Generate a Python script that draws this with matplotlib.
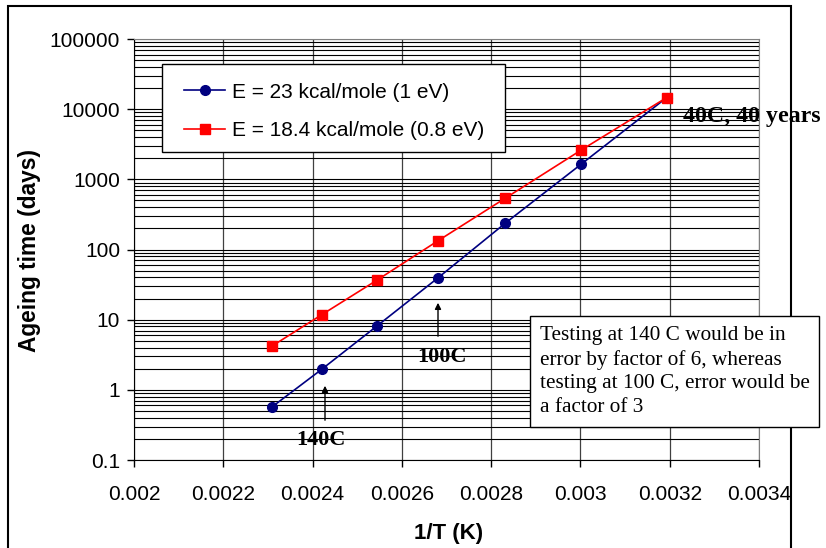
import matplotlib
matplotlib.use("Agg")
import matplotlib.pyplot as plt
from matplotlib.patches import Rectangle
from matplotlib.ticker import FixedLocator, LogLocator, NullFormatter

# 1/T for 160, 140, 120, 100, 80, 60, 40 C
inv_t = [0.002309, 0.002420, 0.002544, 0.002680, 0.002832, 0.003002, 0.003193]
days_1ev = [0.57, 1.95, 8.1, 39, 238, 1650, 14600]
days_08ev = [4.2, 11.7, 36.5, 132, 540, 2620, 14600]

label_1ev = "E = 23 kcal/mole (1 eV)"
label_08ev = "E = 18.4 kcal/mole (0.8 eV)"

x_ticks = [0.002, 0.0022, 0.0024, 0.0026, 0.0028, 0.003, 0.0032, 0.0034]
x_tick_labels = ["0.002", "0.0022", "0.0024", "0.0026", "0.0028", "0.003", "0.0032", "0.0034"]
y_ticks = [0.1, 1, 10, 100, 1000, 10000, 100000]
y_tick_labels = ["0.1", "1", "10", "100", "1000", "10000", "100000"]

note = ("Testing at 140 C would be in\nerror by factor of 6, whereas\n"
        "testing at 100 C, error would be\na factor of 3")

W, H = 826, 548


def fx(px):
    return px / W


def fy(py):
    return 1 - py / H


plt.rcParams['font.family'] = ['Liberation Sans', 'DejaVu Sans']
serif = ['Liberation Serif', 'DejaVu Serif']

fig = plt.figure(figsize=(W / 100, H / 100), dpi=100)
ax = fig.add_axes([fx(134), fy(460), fx(759) - fx(134), fy(39) - fy(460)])

ax.plot(inv_t, days_1ev, color='#000080', marker='o', markersize=7, lw=1.2,
        label=label_1ev, zorder=3)
ax.plot(inv_t, days_08ev, color='#ff0000', marker='s', markersize=7, lw=1.2,
        label=label_08ev, zorder=3)

ax.set_yscale('log')
ax.set_xlim(0.002, 0.0034)
ax.set_ylim(0.1, 100000)
ax.xaxis.set_major_locator(FixedLocator(x_ticks))
ax.set_xticklabels(x_tick_labels)
ax.yaxis.set_major_locator(FixedLocator(y_ticks))
ax.set_yticklabels(y_tick_labels)
ax.yaxis.set_minor_locator(LogLocator(base=10, subs=range(2, 10), numticks=20))
ax.yaxis.set_minor_formatter(NullFormatter())

ax.grid(True, axis='y', which='both', color='black', lw=0.8)
ax.grid(True, axis='x', which='major', color='#404040', lw=0.9)
ax.tick_params(axis='both', which='major', direction='out', length=5,
               width=1, labelsize=15, color='black')
ax.tick_params(axis='y', pad=5)
ax.tick_params(axis='x', pad=13)
ax.tick_params(which='minor', length=0)
for side in ['top', 'right']:
    ax.spines[side].set_color('#808080')
for side in ['left', 'bottom']:
    ax.spines[side].set_color('black')

fig.text(fx(30), fy(250), "Ageing time (days)", rotation=90, ha='center',
         va='center', fontsize=16.4, fontweight='bold')
fig.text(fx(449), fy(533), "1/T (K)", ha='center', va='center',
         fontsize=16, fontweight='bold')

# legend box
fig.patches.append(Rectangle((fx(162), fy(152)), fx(505) - fx(162), fy(64) - fy(152),
                             transform=fig.transFigure, facecolor='white',
                             edgecolor='black', lw=1, zorder=5))
leg = fig.legend(loc='upper left', bbox_to_anchor=(fx(167), fy(66)),
                 frameon=False, fontsize=15, handlelength=2.0, handletextpad=0.3,
                 labelspacing=0.95, borderpad=0.3)
leg.set_zorder(6)

# note box
fig.text(fx(540), fy(326), note, ha='left', va='top', fontsize=15.3,
         family=serif, linespacing=1.33,
         bbox=dict(boxstyle='square,pad=0.45', facecolor='white', edgecolor='black', lw=1),
         zorder=6)

fig.text(fx(683), fy(117), "40C, 40 years", ha='left', va='center', fontsize=17.2,
         fontweight='bold', family=serif, zorder=6)
fig.text(fx(442), fy(357), "100C", ha='center', va='center', fontsize=16,
         fontweight='bold', family=serif, zorder=6)
fig.text(fx(321), fy(440), "140C", ha='center', va='center', fontsize=16,
         fontweight='bold', family=serif, zorder=6)

arrow = dict(arrowstyle='-|>', color='black', lw=1, mutation_scale=9)
ax.annotate("", xy=(fx(438), fy(300)), xytext=(fx(438), fy(339)),
            xycoords='figure fraction', textcoords='figure fraction', arrowprops=arrow)
ax.annotate("", xy=(fx(325), fy(383)), xytext=(fx(325), fy(423)),
            xycoords='figure fraction', textcoords='figure fraction', arrowprops=arrow)

# outer chart frame
fig.patches.append(Rectangle((fx(8), -0.05), fx(791) - fx(8), fy(6) + 0.05,
                             transform=fig.transFigure, fill=False,
                             edgecolor='black', lw=1.5, zorder=4))

fig.savefig("out.png", dpi=100)
